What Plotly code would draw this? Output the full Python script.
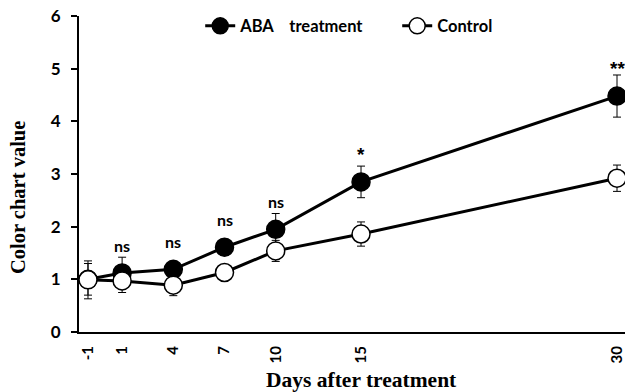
import plotly.graph_objects as go

days = [-1, 1, 4, 7, 10, 15, 30]
aba = [1.0, 1.12, 1.19, 1.61, 1.95, 2.85, 4.48]
aba_err = [0.3, 0.3, 0.12, 0.15, 0.3, 0.3, 0.4]
ctrl = [0.99, 0.97, 0.89, 1.13, 1.54, 1.86, 2.92]
ctrl_err = [0.36, 0.22, 0.2, 0.1, 0.2, 0.23, 0.25]
sig = ["", "ns", "ns", "ns", "ns", "*", "**"]
tick_labels = ["-1", "1", "4", "7", "10", "15", "30"]

label_offset = 0.52

fig = go.Figure()
fig.add_trace(go.Scatter(
    x=days, y=aba, name="ABA&nbsp;&nbsp;&nbsp; treatment", mode="lines+markers",
    line=dict(color="black", width=3),
    marker=dict(size=18, color="black", line=dict(color="black", width=1.5)),
    error_y=dict(type="data", array=aba_err, color="black", thickness=1, width=4),
    cliponaxis=False,
))
fig.add_trace(go.Scatter(
    x=days, y=ctrl, name="Control", mode="lines+markers",
    line=dict(color="black", width=3),
    marker=dict(size=18, color="white", line=dict(color="black", width=1.5)),
    error_y=dict(type="data", array=ctrl_err, color="black", thickness=1, width=4),
    cliponaxis=False,
))

for d, v, s in zip(days, aba, sig):
    if s:
        if s.startswith("n"):
            f = dict(family="Lato", size=16, color="black", weight="bold")
        else:
            f = dict(family="Liberation Sans", size=19, color="black", weight="bold")
        fig.add_annotation(x=d, y=v + label_offset, text=s, showarrow=False,
                           yanchor="middle", font=f)

# axis titles as annotations for precise placement
fig.add_annotation(xref="paper", yref="paper", x=-0.1117, y=0.424, text="Color chart value",
                   textangle=-90, showarrow=False, xanchor="center", yanchor="middle",
                   font=dict(family="Liberation Serif", size=20.5, color="black", weight="bold"))
fig.add_annotation(xref="paper", yref="paper", x=0.518, y=-0.153, text="Days after treatment",
                   showarrow=False, xanchor="center", yanchor="middle",
                   font=dict(family="Liberation Serif", size=21.5, color="black", weight="bold"))

fig.update_layout(
    width=625, height=392,
    margin=dict(l=79, r=0, t=16, b=60),
    plot_bgcolor="white", paper_bgcolor="white",
    showlegend=True,
    legend=dict(orientation="h", x=0.222, y=0.968, xanchor="left", yanchor="middle",
                font=dict(family="Lato", size=16.5, color="black", weight="bold"),
                bgcolor="rgba(0,0,0,0)", itemwidth=30, entrywidth=152, tracegroupgap=0),
    xaxis=dict(
        range=[-1.527, 30.469], tickmode="array", tickvals=days, ticktext=tick_labels,
        tickangle=-90, showgrid=False, zeroline=False, showline=True,
        linecolor="black", linewidth=2, ticks="", ticklabelstandoff=6,
        tickfont=dict(family="Lato", size=15, color="black", weight="bold"),
    ),
    yaxis=dict(
        range=[0, 6], tickvals=[0, 1, 2, 3, 4, 5, 6], showgrid=False, zeroline=False,
        showline=True, linecolor="black", linewidth=2, ticks="outside", ticklen=6,
        tickwidth=2, tickcolor="black", ticklabelstandoff=7,
        tickfont=dict(family="Lato", size=17, color="black", weight="bold"),
    ),
)

fig.write_html("out.html")
